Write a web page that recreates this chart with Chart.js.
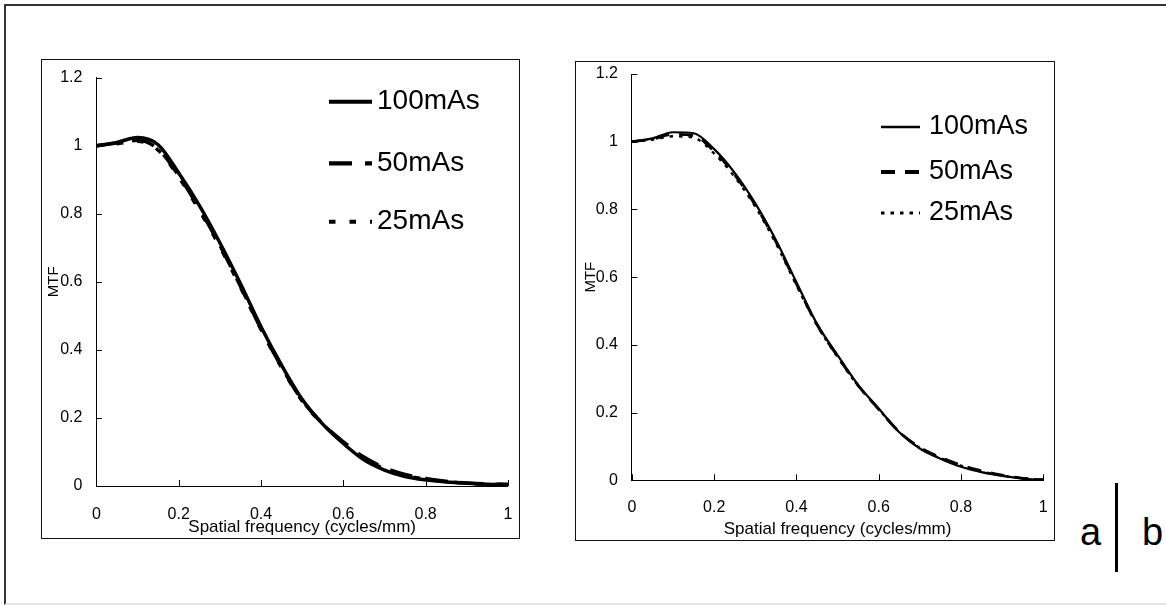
<!DOCTYPE html>
<html>
<head>
<meta charset="utf-8">
<script src="https://cdn.jsdelivr.net/npm/chart.js@4.4.1/dist/chart.umd.min.js"></script>
<style>
  html, body { margin: 0; padding: 0; background: #fff; width: 1166px; height: 605px; overflow: hidden; }
  .frame { position: absolute; left: 4px; top: 4px; width: 1180px; height: 597px; border-left: 2px solid #333; border-top: 2px solid #333; border-bottom: 2px solid #e4e4e4; }
  .box { position: absolute; border: 1.5px solid #111; box-sizing: border-box; }
  canvas { position: absolute; }
  .tag { position: absolute; font-family: 'Liberation Sans', Arial, sans-serif; font-size: 38px; line-height: 1; color: #000; }
  .bar { position: absolute; left: 1114.5px; top: 483px; width: 3px; height: 89px; background: #000; }
</style>
</head>
<body>
<div class="frame"></div>
<div class="box" style="left:41px; top:59px; width:479px; height:480px;"></div>
<div class="box" style="left:575px; top:61px; width:480px; height:480px;"></div>
<canvas id="chart-a" width="477" height="478" style="left:42px; top:60px;"></canvas>
<canvas id="chart-b" width="478" height="478" style="left:576px; top:62px;"></canvas>
<div class="tag" style="left:1080px; top:513px;">a</div>
<div class="bar"></div>
<div class="tag" style="left:1142px; top:513px;">b</div>

<script>
// spatial frequency (cycles/mm)
const freq = [0, 0.05, 0.1, 0.15, 0.2, 0.25, 0.3, 0.35, 0.4, 0.45, 0.5, 0.55, 0.6, 0.65, 0.7, 0.75, 0.8, 0.85, 0.9, 0.95, 1.0]

// panel a
const a100 = [1.0, 1.01, 1.024, 1.003, 0.92, 0.825, 0.715, 0.595, 0.468, 0.355, 0.255, 0.182, 0.125, 0.077, 0.047, 0.028, 0.018, 0.012, 0.008, 0.005, 0.004]
const a50 = [1.0, 1.008, 1.016, 0.99, 0.912, 0.815, 0.707, 0.587, 0.462, 0.35, 0.252, 0.183, 0.13, 0.085, 0.054, 0.034, 0.022, 0.014, 0.009, 0.006, 0.005]
const a25 = [1.0, 1.006, 1.013, 0.987, 0.908, 0.81, 0.703, 0.584, 0.46, 0.348, 0.25, 0.182, 0.128, 0.082, 0.051, 0.031, 0.02, 0.013, 0.008, 0.005, 0.004]

// panel b
const b100 = [1.0, 1.01, 1.028, 1.025, 0.978, 0.908, 0.818, 0.71, 0.585, 0.462, 0.37, 0.282, 0.212, 0.142, 0.094, 0.064, 0.04, 0.024, 0.013, 0.005, 0.001]
const b50 = [1.0, 1.008, 1.022, 1.018, 0.972, 0.902, 0.813, 0.705, 0.58, 0.46, 0.366, 0.28, 0.21, 0.143, 0.097, 0.068, 0.045, 0.028, 0.015, 0.006, 0.002]
const b25 = [1.0, 1.006, 1.016, 1.012, 0.965, 0.896, 0.808, 0.7, 0.576, 0.458, 0.364, 0.279, 0.21, 0.143, 0.096, 0.066, 0.043, 0.026, 0.014, 0.006, 0.002]

const seriesLabels = ['100mAs', '50mAs', '25mAs']
const xTickLabels = ['0', '0.2', '0.4', '0.6', '0.8', '1']
const yTickLabels = ['0', '0.2', '0.4', '0.6', '0.8', '1', '1.2']
const xTitle = 'Spatial frequency (cycles/mm)'
const yTitle = 'MTF'

const family = "'Liberation Sans', Arial, sans-serif"
Chart.defaults.font.family = family
Chart.defaults.color = '#000'

const points = (vals) => freq.map((f, i) => ({ x: f, y: vals[i] }))

// tick marks point into the plot
const innerTicks = {
  id: 'innerTicks',
  afterDraw(chart) {
    const { ctx, chartArea: area, scales } = chart
    ctx.save()
    ctx.strokeStyle = '#000'
    ctx.lineWidth = 1
    ctx.beginPath()
    scales.x.ticks.forEach((t) => {
      const px = Math.round(scales.x.getPixelForValue(t.value)) + 0.5
      ctx.moveTo(px, area.bottom)
      ctx.lineTo(px, area.bottom - 6)
    })
    scales.y.ticks.forEach((t) => {
      const py = Math.round(scales.y.getPixelForValue(t.value)) + 0.5
      ctx.moveTo(area.left, py)
      ctx.lineTo(area.left + 5.5, py)
    })
    ctx.stroke()
    ctx.restore()
  },
}

// legend inside the plot, one row per series
const sideLegend = {
  id: 'sideLegend',
  afterDatasetsDraw(chart, args, opts) {
    const { ctx } = chart
    chart.data.datasets.forEach((ds, i) => {
      const y = opts.rows[i]
      ctx.save()
      ctx.strokeStyle = ds.borderColor
      ctx.lineWidth = opts.lineWidths[i]
      ctx.setLineDash(ds.borderDash || [])
      ctx.beginPath()
      ctx.moveTo(opts.x0, y)
      ctx.lineTo(opts.x1, y)
      ctx.stroke()
      ctx.setLineDash([])
      ctx.fillStyle = '#000'
      ctx.font = `${opts.size}px ${family}`
      ctx.textBaseline = 'middle'
      ctx.fillText(ds.label, opts.textX, y)
      ctx.restore()
    })
  },
}

function makeChart(id, series, look) {
  const datasets = series.map((vals, i) => ({
    label: seriesLabels[i],
    data: points(vals),
    borderColor: '#000',
    borderWidth: look.widths[i],
    borderDash: look.dashes[i],
    pointRadius: 0,
    cubicInterpolationMode: 'monotone',
    clip: false,
  }))

  return new Chart(document.getElementById(id), {
    type: 'line',
    data: { datasets },
    plugins: [innerTicks, sideLegend],
    options: {
      responsive: false,
      animation: false,
      devicePixelRatio: 1,
      layout: { padding: look.padding },
      plugins: {
        legend: { display: false },
        tooltip: { enabled: false },
        sideLegend: look.legend,
      },
      scales: {
        x: {
          type: 'linear',
          min: 0,
          max: 1,
          afterFit: (s) => {
            s.height = look.xHeight
            s.paddingLeft = 0
            s.paddingRight = 0
          },
          grid: { display: false, drawTicks: false },
          border: { display: true, color: '#000', width: 1 },
          ticks: {
            stepSize: 0.2,
            padding: look.xPad,
            maxRotation: 0,
            font: { size: 16 },
            color: '#000',
            callback: (v, i) => xTickLabels[i],
          },
          title: {
            display: true,
            text: xTitle,
            font: { size: 17 },
            color: '#000',
            padding: { top: 0, bottom: look.xTitlePad },
          },
        },
        y: {
          min: 0,
          max: 1.2,
          afterFit: (s) => {
            s.width = look.yWidth
            s.paddingTop = 0
            s.paddingBottom = 0
          },
          grid: { display: false, drawTicks: false },
          border: { display: true, color: '#000', width: 1 },
          ticks: {
            stepSize: 0.2,
            padding: 14,
            font: { size: 16 },
            color: '#000',
            callback: (v, i) => yTickLabels[i],
          },
          title: {
            display: true,
            text: yTitle,
            font: { size: 15 },
            color: '#000',
            padding: { top: look.yTitlePad, bottom: 0 },
          },
        },
      },
    },
  })
}

makeChart('chart-a', [a100, a50, a25], {
  widths: [3.5, 3.5, 3.5],
  dashes: [[], [23, 13], [6.5, 14]],
  padding: { top: 17.7, right: 11.1, left: 0, bottom: 0 },
  xHeight: 52,
  yWidth: 54.4,
  xPad: 19,
  xTitlePad: 0,
  yTitlePad: 2.5,
  legend: { x0: 287, x1: 330, textX: 335, rows: [41.7, 103.3, 161.7], size: 28, lineWidths: [4, 4.3, 4] },
})

makeChart('chart-b', [b100, b50, b25], {
  widths: [2.2, 2.8, 2.4],
  dashes: [[], [14, 10], [3.5, 6]],
  padding: { top: 12, right: 10.8, left: 0, bottom: 0 },
  xHeight: 59.7,
  yWidth: 55.9,
  xPad: 18,
  xTitlePad: 0.5,
  yTitlePad: 6,
  legend: { x0: 305, x1: 344, textX: 353, rows: [65, 110, 151], size: 27, lineWidths: [2.3, 4, 3] },
})
</script>
</body>
</html>
